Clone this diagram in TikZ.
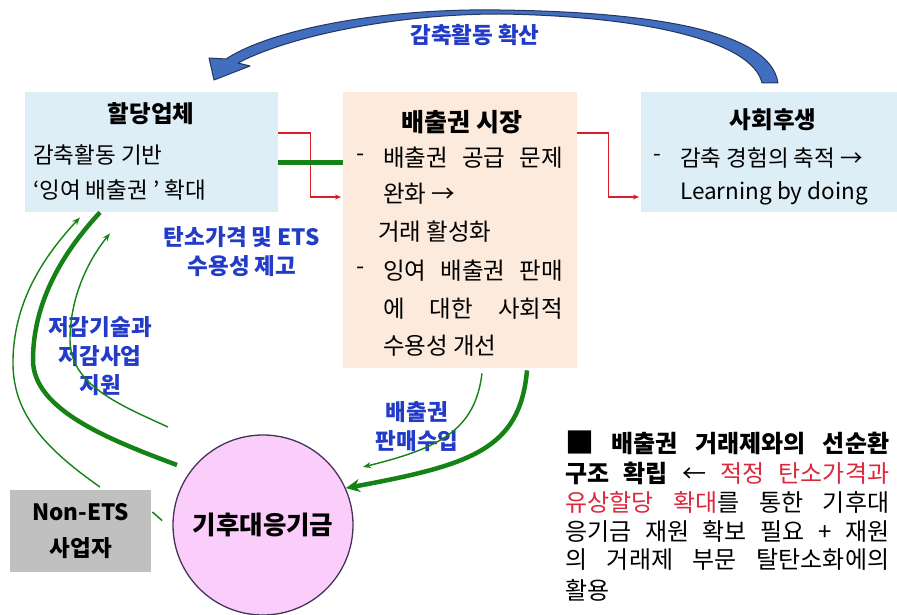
\documentclass[tikz,border=0pt]{standalone}
\usepackage{fontspec}
\setmainfont{Noto Sans CJK KR}
\usetikzlibrary{arrows.meta,calc}
\definecolor{boxblue}{RGB}{222,238,247}
\definecolor{boxpeach}{RGB}{252,234,220}
\definecolor{lblblue}{RGB}{35,60,200}
\definecolor{arrblue}{RGB}{65,110,190}
\definecolor{arrdark}{RGB}{35,55,95}
\definecolor{myred}{RGB}{215,30,40}
\definecolor{mygreen}{RGB}{20,130,20}
\definecolor{circpink}{RGB}{250,205,250}
\definecolor{circline}{RGB}{70,50,90}
\definecolor{nongray}{RGB}{192,192,192}
\definecolor{txtred}{RGB}{220,40,60}
\begin{document}
\begin{tikzpicture}[x=1bp,y=-1bp,
  box/.style={inner sep=0, anchor=north west, draw=none},
  body/.style={inner sep=0, anchor=west, font=\fontsize{22.5bp}{26bp}\selectfont},
  mbody/.style={inner sep=0, anchor=west, font=\fontsize{23.5bp}{27bp}\selectfont},
  note/.style={inner sep=0, anchor=west, font=\fontsize{24bp}{27bp}\selectfont},
  head/.style={inner sep=0, font=\bfseries\fontsize{23.5bp}{27bp}\selectfont},
  lbl/.style={inner sep=0, align=center, text=lblblue, font=\bfseries\fontsize{22.5bp}{29bp}\selectfont},
  thing/.style={mygreen, line width=1.4bp, -{Stealth[length=8bp,width=6bp]}},
  thickg/.style={mygreen, line width=4.5bp},
  redarr/.style={myred, line width=1.6bp, -{Stealth[length=6bp,width=5bp]}},
]
\useasboundingbox (0,0) rectangle (897,615);
\fill[white] (0,0) rectangle (897,615);

% boxes
\node[box, fill=boxblue, minimum width=253bp, minimum height=120bp] (alloc) at (25,92) {};
\node[box, fill=boxpeach, minimum width=234bp, minimum height=276bp] (market) at (343,92) {};
\node[box, fill=boxblue, minimum width=256bp, minimum height=120bp] (welfare) at (641,92) {};
\node[box, fill=nongray, minimum width=141bp, minimum height=82bp] (nonets) at (10,490) {};
\node[circle, draw=circline, line width=1.3bp, fill=circpink, minimum size=180bp, inner sep=0,
      font=\bfseries\fontsize{25.5bp}{29bp}\selectfont] (circ) at (263,525) {기후대응기금};

% left box text
\node[head] (allocT) at (151,114) {할당업체};
\node[body] (allocL1) at (33,155) {감축활동 기반};
\node[body] (allocL2) at (33,190) {‘잉여 배출권 ’ 확대};

% market text
\node[head, font=\bfseries\fontsize{25bp}{28bp}\selectfont] (marketT) at (462,122) {배출권 시장};
\node[mbody] (md1) at (356,158) {-};
\node[mbody] (ml1) at (383,158) {\makebox[180bp][s]{배출권 공급 문제}};
\node[mbody] (ml2) at (383,194) {완화 →};
\node[mbody] (ml3) at (378,232) {거래 활성화};
\node[mbody] (md2) at (356,271) {-};
\node[mbody] (ml4) at (383,271) {\makebox[180bp][s]{잉여 배출권 판매}};
\node[mbody] (ml5) at (383,309) {\makebox[180bp][s]{에 대한 사회적}};
\node[mbody] (ml6) at (383,346) {수용성 개선};

% welfare text
\node[head] (welfareT) at (773,120) {사회후생};
\node[body] (wd) at (653,158) {-};
\node[body] (wl1) at (680,158) {감축 경험의 축적 →};
\node[body] (wl2) at (680,193) {Learning by doing};

% non-ETS text
\node[inner sep=0, align=center, font=\bfseries\fontsize{22.5bp}{36bp}\selectfont] (nonT) at (nonets.center) {Non-ETS\\사업자};

% labels
\node[lbl] (lbTop) at (475,35) {감축활동 확산};
\node[lbl] (lbPrice) at (242,252) {탄소가격 및 ETS\\수용성 제고};
\node[lbl] (lbTech) at (100,356) {저감기술과\\저감사업\\지원};
\node[lbl] (lbSale) at (417,427) {배출권\\판매수입};

% note text
\node[note] (n1) at (565,443) {\makebox[324bp][s]{\bfseries {\fontsize{29bp}{29bp}\selectfont\raisebox{-1.5bp}{■}} 배출권 거래제와의 선순환}};
\node[note] (n2) at (565,473) {\makebox[324bp][s]{\bfseries 구조 확립 {\mdseries ←} \mdseries\color{txtred}적정 탄소가격과}};
\node[note] (n3) at (565,502) {\makebox[324bp][s]{\color{txtred}유상할당 확대\color{black}를 통한 기후대}};
\node[note] (n4) at (565,531) {\makebox[324bp][s]{응기금 재원 확보 필요 + 재원}};
\node[note] (n5) at (565,560) {\makebox[324bp][s]{의 거래제 부문 탈탄소화에의}};
\node[note] (n6) at (565,590) {활용};

% top curved blue arrow
\filldraw[fill=arrblue, draw=arrdark, line width=1bp, line join=round]
  (778,83) .. controls (770,30) and (650,12) .. (500,10)
  .. controls (380,8) and (270,30) .. (226,59)
  -- (209,58) -- (214,80) -- (250,66) -- (238,63)
  .. controls (285,38) and (390,14) .. (500,14)
  .. controls (640,16) and (752,40) .. (762,83) -- cycle;

% red connectors
\draw[redarr] ($(alloc.north east)+(0,41)$) -- ++(32,0) -- ++(0,64) -- ($(market.north west)+(-2,105)$);
\draw[redarr] ($(market.north east)+(0,41)$) -- ++(31,0) -- ++(0,64) -- ($(welfare.north west)+(-2,105)$);
% green horizontal
\draw[mygreen, line width=5bp] ($(alloc.north east)+(0,71)$) -- ($(market.north west)+(0,71)$);

% left green curves
\draw[thing] ($(nonets.north west)+(90,-3)$) .. controls (40,445) and (12,410) .. (13,360)
  .. controls (14,300) and (45,255) .. ($(alloc.south west)+(55,5)$);
\draw[thickg] ($(circ.center)+(-86,-60)$) .. controls (110,440) and (33,410) .. (33,360)
  .. controls (33,300) and (65,250) .. ($(alloc.south west)+(75,0)$);
\draw[thing] ($(circ.center)+(-95,-98)$) .. controls (120,405) and (70,385) .. (70,340)
  .. controls (70,295) and (90,258) .. ($(alloc.south west)+(85,21)$);

% right green curves
\draw[thing] ($(market.south west)+(139,5)$) .. controls (475,430) and (440,448) .. ($(circ.center)+(100,-58)$);
\draw[thickg, -{Stealth[length=14bp,width=13bp]}] ($(market.south west)+(184,2)$) .. controls (520,450) and (470,465) .. (circ.24);

% dashed link
\draw[mygreen, line width=1.5bp, dash pattern=on 13bp off 30bp] ($(nonets.north east)+(1,22)$) -- (circ.183);
\end{tikzpicture}
\end{document}
